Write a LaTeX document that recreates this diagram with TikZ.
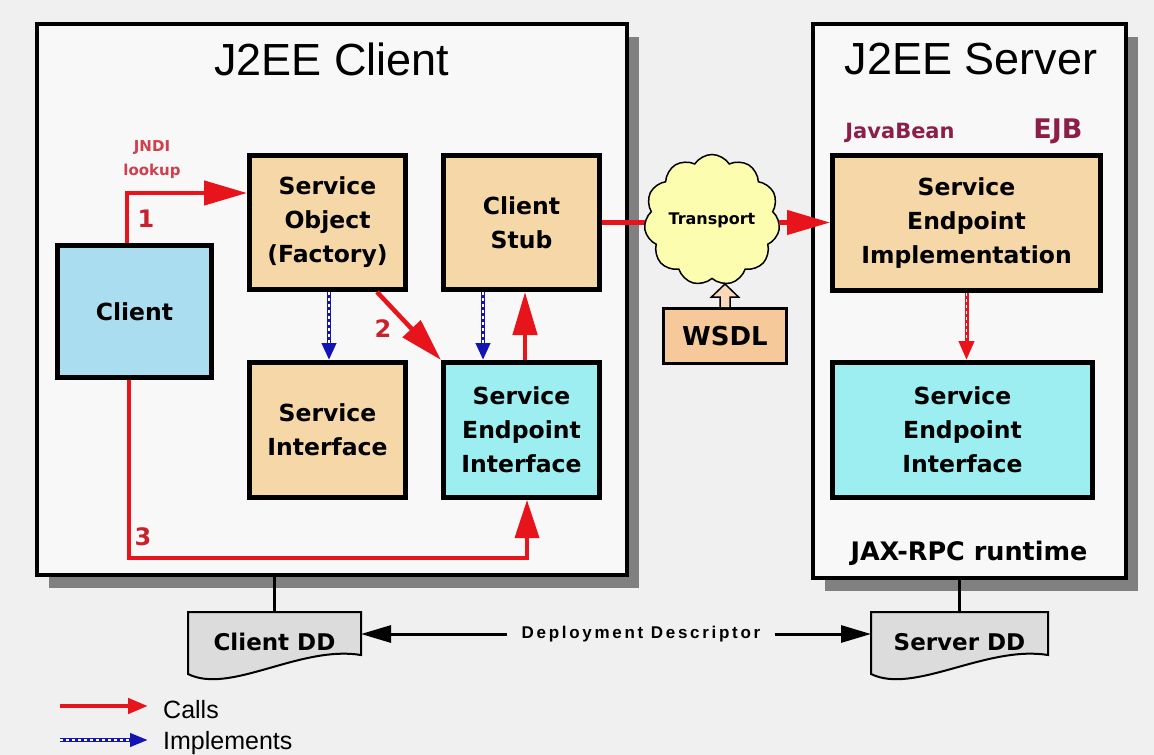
\documentclass[tikz,border=0pt]{standalone}
\usepackage{fontspec}
\setmainfont{DejaVu Sans}
\newfontfamily\lib{Liberation Sans}
\newfontfamily\libsp[LetterSpace=16]{Liberation Sans}
\usetikzlibrary{shapes.symbols,arrows.meta,calc,backgrounds,shadows}
\definecolor{cbg}{HTML}{F0F0F0}
\definecolor{careafill}{HTML}{F8F8F8}
\definecolor{ctan}{HTML}{F6D7A7}
\definecolor{ccyan}{HTML}{9CEEF0}
\definecolor{cclient}{HTML}{AADDF0}
\definecolor{cyel}{HTML}{FDFDB0}
\definecolor{cwsdl}{HTML}{F6C99B}
\definecolor{cdoc}{HTML}{DCDCDC}
\definecolor{cred}{HTML}{E8141C}
\definecolor{clabel}{HTML}{C9202E}
\definecolor{cjndi}{HTML}{CF3F4C}
\definecolor{cmaroon}{HTML}{8C1F4A}
\definecolor{cblue}{HTML}{1414B4}
\definecolor{cshadow}{HTML}{808080}
\begin{document}
\begin{tikzpicture}[x=1pt,y=-1pt,
  area/.style={draw=black, line width=4pt, fill=careafill,
    drop shadow={shadow xshift=12pt, shadow yshift=-13pt, fill=cshadow, opacity=1}},
  box/.style={draw=black, line width=5pt, align=center, inner sep=0pt,
    font=\bfseries\fontsize{23.5}{34}\selectfont},
  title/.style={font=\lib\fontsize{45}{54}\selectfont, anchor=base, inner sep=0pt},
  call/.style={draw=cred, line width=4.5pt, line join=miter,
    -{Triangle[length=43pt,width=24pt]}},
  callline/.style={draw=cred, line width=4.5pt},
  impl/.style={draw=cblue, line width=4pt, -{Triangle[length=17pt,width=14pt]},
    postaction={draw=white, line width=1.3pt, dash pattern=on 3pt off 3pt, -, shorten >=17pt}},
  implr/.style={draw=cred, line width=4pt, -{Triangle[length=19pt,width=15pt]},
    postaction={draw=white, line width=1.3pt, dash pattern=on 3pt off 3pt, -, shorten >=19pt}},
  num/.style={text=clabel, font=\bfseries\fontsize{24}{28}\selectfont, anchor=base, inner sep=0pt},
  doc/.style={draw=black, line width=2pt, fill=cdoc, line join=miter},
  doctext/.style={font=\bfseries\fontsize{23}{28}\selectfont, inner sep=0pt, outer sep=0pt,
    minimum height=60pt},
  ddarrow/.style={draw=black, line width=3pt, -{Triangle[length=30pt,width=17pt]}},
  legend/.style={font=\lib\fontsize{25}{30}\selectfont, anchor=base west, inner sep=0pt}
]
\useasboundingbox (0,0) rectangle (1154,755);
\begin{scope}[on background layer]
  \fill[cbg] (0,0) rectangle (1154,755);
\end{scope}

% containers
\node[area, minimum width=590pt, minimum height=551pt] (carea) at (332,299.5) {};
\node[area, minimum width=313pt, minimum height=554pt] (sarea) at (969.5,301) {};
\node[title] (ctitle) at (332,75) {J2EE Client};
\node[title] (stitle) at (971,74) {J2EE Server};

% client side boxes
\node[box, fill=cclient, minimum width=154pt, minimum height=132pt] (Client) at (134.5,311.5) {Client};
\node[box, fill=ctan, minimum width=156pt, minimum height=134pt] (SO) at (327.5,222.5) {Service\\Object\\(Factory)};
\node[box, fill=ctan, minimum width=156pt, minimum height=134pt] (Stub) at (521.5,222.5) {Client\\Stub};
\node[box, fill=ctan, minimum width=156pt, minimum height=135pt] (SI) at (327.5,430) {Service\\Interface};
\node[box, fill=ccyan, minimum width=156pt, minimum height=135pt] (SEI) at (521.5,430) {Service\\Endpoint\\Interface};

% server side boxes
\node[box, fill=ctan, minimum width=268pt, minimum height=135pt] (SEImpl) at (966.5,223) {Service\\Endpoint\\Implementation};
\node[box, fill=ccyan, minimum width=260pt, minimum height=135pt] (SSEI) at (962.5,430) {Service\\Endpoint\\Interface};
\node[anchor=base, inner sep=0pt, text=cmaroon, font=\bfseries\fontsize{21}{24}\selectfont] (jb) at (900,138) {JavaBean};
\node[anchor=base, inner sep=0pt, text=cmaroon, font=\bfseries\fontsize{27}{30}\selectfont] (ejb) at (1058,138) {EJB};
\node[anchor=base, inner sep=0pt, font=\bfseries\fontsize{25.5}{30}\selectfont] (jax) at (969,560) {JAX-RPC runtime};

% client-side connectors
\draw[call] ([xshift=-7.5pt]Client.north) |- ([yshift=29.5pt]SO.west);
\node[align=center, text=cjndi, inner sep=0pt, font=\bfseries\fontsize{15}{24}\selectfont] (jndi) at (152,160) {JNDI\\lookup};
\node[num] (n1) at (146,227) {1};
\draw[call] ([xshift=49.5pt]SO.south) -- (SEI.north west);
\node[num] (n2) at (383,337) {2};
\draw[call, line width=3.5pt, -{Triangle[length=38pt,width=24pt]}] ([xshift=-5.5pt]Client.south) -- ++(0,178) -| ([xshift=5.5pt]SEI.south);
\node[num] (n3) at (143,545) {3};
\draw[call] ([xshift=3.5pt]SEI.north) -- ([xshift=3.5pt]Stub.south);
\draw[impl] ([xshift=1.5pt]SO.south) -- ([xshift=1.5pt]SO.south |- SI.north);
\draw[impl] ([xshift=-38.5pt]Stub.south) -- ([xshift=-38.5pt]Stub.south |- SEI.north);

% transport
\coordinate (cloudc) at (712,220);
\draw[callline] (Stub.east) -- (Stub.east -| cloudc);
\node[cloud, cloud puffs=11, cloud puff arc=115, aspect=1.05, draw=black, line width=1.5pt,
  fill=cyel, minimum width=128pt, minimum height=116pt, inner sep=0pt,
  font=\bfseries\fontsize{16}{18}\selectfont] (cloud) at (cloudc) {Transport};
\draw[call] (cloud.east |- Stub.east) -- (SEImpl.west |- Stub.east);

\node[draw=black, line width=3pt, fill=cwsdl, minimum width=123pt, minimum height=55pt, inner sep=0pt,
  font=\bfseries\fontsize{26}{30}\selectfont] (WSDL) at (725,336) {WSDL};
\draw[fill=cwsdl!70!white, line width=1.5pt, line join=miter]
  ($(WSDL.north)+(-5,0)$) -- ($(WSDL.north)+(-5,-10)$) -- ($(WSDL.north)+(-13.5,-10)$)
  -- ($(WSDL.north)+(0,-23)$) -- ($(WSDL.north)+(13.5,-10)$) -- ($(WSDL.north)+(5,-10)$)
  -- ($(WSDL.north)+(5,0)$);

% server call
\draw[implr] (SEImpl.south) -- (SEImpl.south |- SSEI.north);

% deployment descriptors
\node[doctext, minimum width=173pt] (cdd) at (274.5,642) {Client DD};
\node[doctext, minimum width=177pt] (sdd) at (959.5,642) {Server DD};
\begin{scope}[on background layer]
  \draw[doc] (cdd.north west) -- (cdd.north east) -- ($(cdd.north east)+(0,43)$)
    .. controls ($(cdd.north west)+(112,33)$) and ($(cdd.north west)+(42,83)$) .. ($(cdd.north west)+(0,62)$) -- cycle;
  \draw[doc] (sdd.north west) -- (sdd.north east) -- ($(sdd.north east)+(0,43)$)
    .. controls ($(sdd.north west)+(115,33)$) and ($(sdd.north west)+(43,83)$) .. ($(sdd.north west)+(0,62)$) -- cycle;
\end{scope}
\draw[line width=3pt] (carea.south -| cdd.north) -- (cdd.north);
\draw[line width=3pt] (sarea.south -| sdd.north) -- (sdd.north);
\node[font=\libsp\bfseries\fontsize{17}{19}\selectfont, inner xsep=14pt, inner ysep=2pt] (ddtxt) at (641,634) {Deployment Descriptor};
\draw[ddarrow] (ddtxt.west) -- (ddtxt.west -| cdd.east);
\draw[ddarrow] (ddtxt.east) -- (ddtxt.east -| sdd.west);

% legend
\coordinate (la1) at (60,706);
\coordinate (la2) at (148,706);
\coordinate (lb1) at (60,740);
\coordinate (lb2) at (148,740);
\draw[call, -{Triangle[length=20pt,width=15pt]}] (la1) -- (la2);
\draw[impl, -{Triangle[length=18pt,width=13pt]}] (lb1) -- (lb2);
\node[legend] (lcalls) at (163,718) {Calls};
\node[legend] (limpl) at (163,749) {Implements};
\end{tikzpicture}
\end{document}
